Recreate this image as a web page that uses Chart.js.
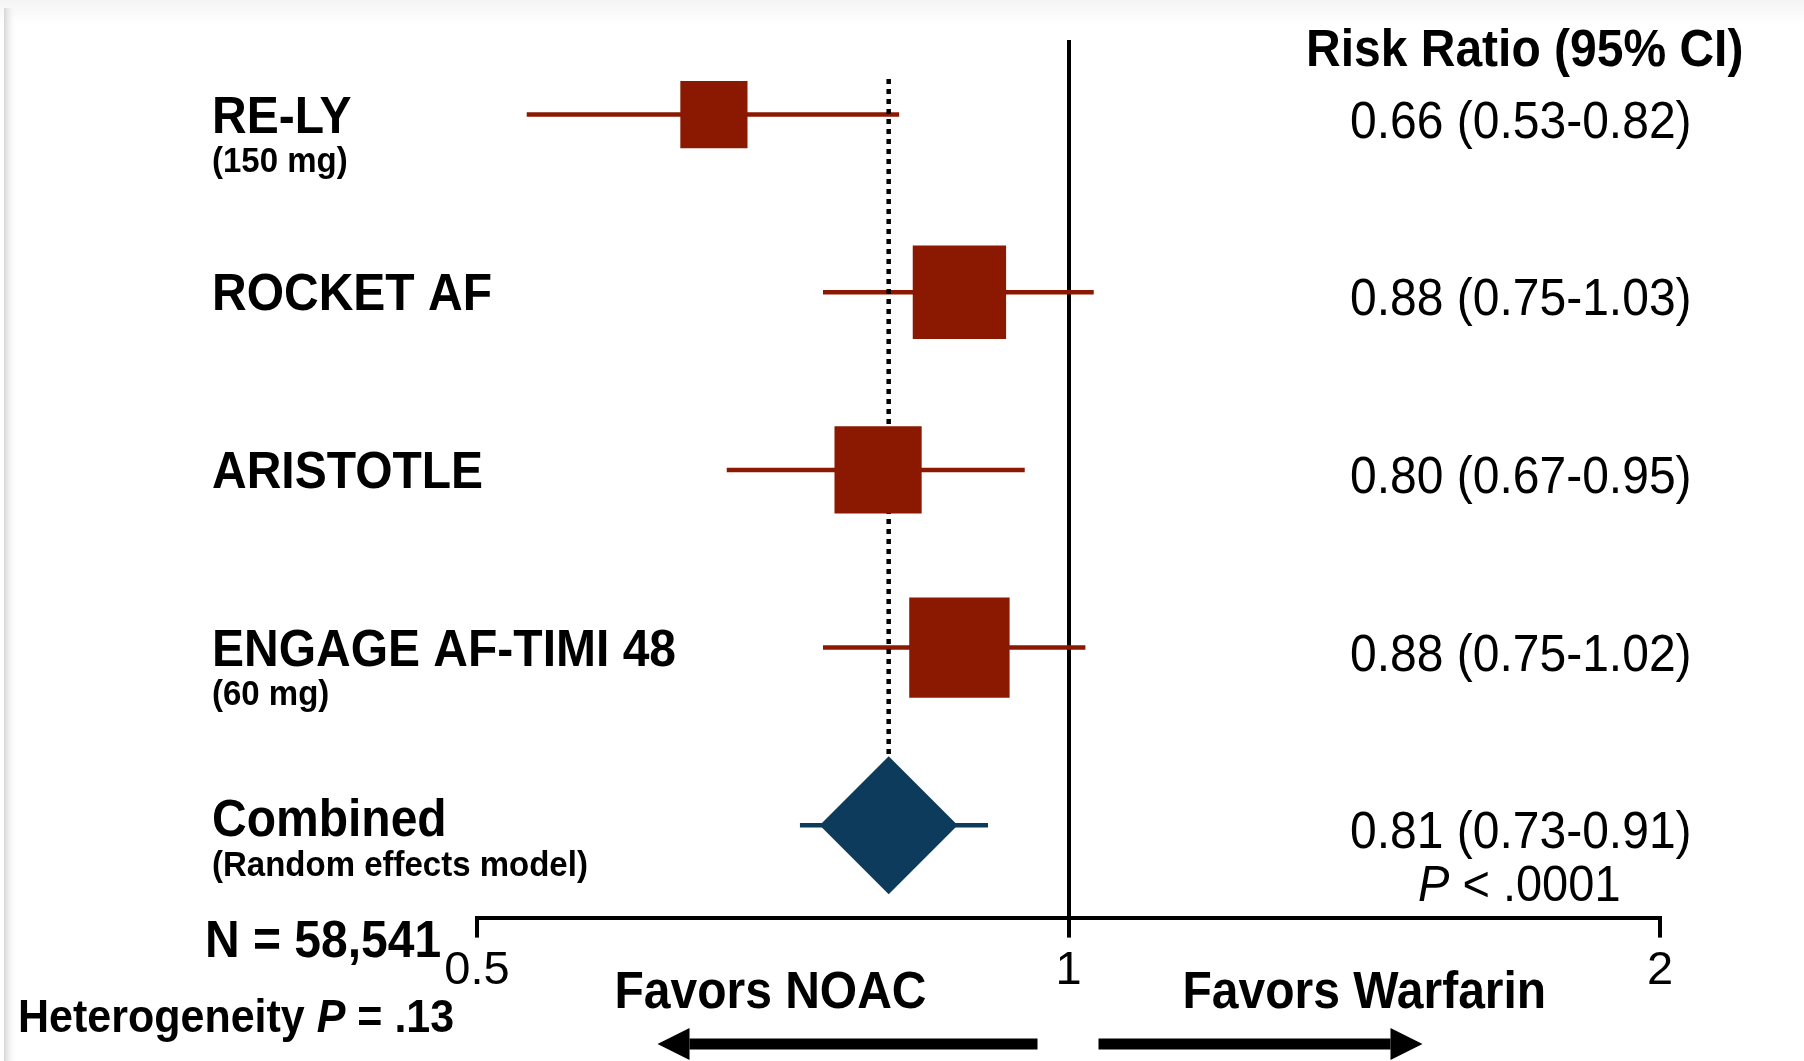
<!DOCTYPE html>
<html>
<head>
<meta charset="utf-8">
<script src="https://cdn.jsdelivr.net/npm/chart.js@4.4.1/dist/chart.umd.min.js"></script>
<style>
  html, body { margin: 0; padding: 0; background: #fff; }
  #wrap { width: 1804px; height: 1061px; }
</style>
</head>
<body>
<div id="wrap"><canvas id="forest" width="1804" height="1061"></canvas></div>
<script>
// trial data (risk ratio with 95% CI), last row is the pooled estimate
const studies = ["RE-LY", "ROCKET AF", "ARISTOTLE", "ENGAGE AF-TIMI 48", "Combined"];
const subLabels = ["(150 mg)", "", "", "(60 mg)", "(Random effects model)"];
const riskRatio = [0.66, 0.88, 0.80, 0.88, 0.81];
const ciLow = [0.53, 0.75, 0.67, 0.75, 0.73];
const ciHigh = [0.82, 1.03, 0.95, 1.02, 0.91];
const weights = [14.6, 28.2, 24.6, 32.6]; // study weights
const xTicks = [0.5, 1, 2];
const totalN = "58,541";
const heterogeneityP = ".13";
const pooledP = ".0001";

const rows = studies.map((s, i) => i + 1);
const pooled = studies.length - 1;

const RED = "#8b1800";
const NAVY = "#0c3b5b";
const FONT = '"Liberation Sans", Arial, Helvetica, sans-serif';
const STRETCH = 1.07; // the source text is a little taller than wide

function fmt(v) { return v.toFixed(2); }

// whisker lines, one dataset per row
const whiskers = studies.map((s, i) => ({
  type: "scatter",
  showLine: true,
  data: [{x: ciLow[i], y: rows[i]}, {x: ciHigh[i], y: rows[i]}],
  borderColor: i === pooled ? NAVY : RED,
  borderWidth: 4.5,
  pointRadius: 0,
  clip: false
}));

function text(ctx, str, x, y) {
  ctx.save();
  ctx.translate(x, y);
  ctx.scale(1, STRETCH);
  ctx.fillText(str, 0, 0);
  ctx.restore();
}

function drawArrow(ctx, x0, x1, y) {
  const dir = x1 > x0 ? 1 : -1;
  const head = 32;
  ctx.fillRect(Math.min(x0, x1 - dir * head), y - 5.5, Math.abs(x1 - x0) - head, 11);
  ctx.beginPath();
  ctx.moveTo(x1, y);
  ctx.lineTo(x1 - dir * head, y - 16);
  ctx.lineTo(x1 - dir * head, y + 16);
  ctx.closePath();
  ctx.fill();
}

// draws runs of text like [["Heterogeneity ", "bold"], ["P", "italic bold"]]
function drawRuns(ctx, runs, x, y, size) {
  runs.forEach(r => {
    ctx.font = r[1] + " " + size + "px " + FONT;
    text(ctx, r[0], x, y);
    x += ctx.measureText(r[0]).width;
  });
}

const background = {
  id: "background",
  beforeDraw(chart) {
    const ctx = chart.ctx;
    ctx.save();
    ctx.fillStyle = "#fff";
    ctx.fillRect(0, 0, chart.width, chart.height);
    let g = ctx.createLinearGradient(0, 0, 0, 24);
    g.addColorStop(0, "#f4f4f4");
    g.addColorStop(1, "#fff");
    ctx.fillStyle = g;
    ctx.fillRect(0, 0, chart.width, 24);
    g = ctx.createLinearGradient(4, 0, 17, 0);
    g.addColorStop(0, "#d6d6d6");
    g.addColorStop(1, "rgba(255,255,255,0)");
    ctx.fillStyle = g;
    ctx.fillRect(4, 8, 13, chart.height - 8);
    ctx.restore();
  }
};

const labels = {
  id: "labels",
  afterDraw(chart) {
    const ctx = chart.ctx;
    const yS = chart.scales.y;
    const xS = chart.scales.x;
    ctx.save();
    ctx.fillStyle = "#000";
    ctx.textAlign = "left";
    ctx.textBaseline = "alphabetic";

    ctx.font = "bold 48px " + FONT;
    text(ctx, "Risk Ratio (95% CI)", 1306, 66);

    studies.forEach((name, i) => {
      const yp = yS.getPixelForValue(rows[i]);
      ctx.font = "bold 48px " + FONT;
      text(ctx, name, 212, yp + (i === pooled ? 11 : 18));
      if (subLabels[i]) {
        ctx.font = "bold 33px " + FONT;
        text(ctx, subLabels[i], 212, yp + (i === pooled ? 51 : 57));
      }
      ctx.font = "48px " + FONT;
      text(ctx, fmt(riskRatio[i]) + " (" + fmt(ciLow[i]) + "-" + fmt(ciHigh[i]) + ")", 1350, yp + 23);
    });

    const yPool = yS.getPixelForValue(rows[pooled]);
    drawRuns(ctx, [["P", "italic"], [" < " + pooledP, ""]], 1418, yPool + 76, 47);

    ctx.font = "bold 48px " + FONT;
    text(ctx, "N = " + totalN, 205, 957);
    drawRuns(ctx, [["Heterogeneity ", "bold"], ["P", "italic bold"], [" = " + heterogeneityP, "bold"]], 18, 1032, 43);

    const xOne = xS.getPixelForValue(1);
    ctx.font = "bold 48px " + FONT;
    ctx.textAlign = "right";
    text(ctx, "Favors NOAC", xOne - 142, 1008);
    ctx.textAlign = "left";
    text(ctx, "Favors Warfarin", xOne + 114, 1008);

    drawArrow(ctx, xOne - 31, xOne - 411, 1044);
    drawArrow(ctx, xOne + 30, xOne + 354, 1044);
    ctx.restore();
  }
};

new Chart(document.getElementById("forest"), {
  type: "scatter",
  data: {
    datasets: [
      {
        label: "Studies",
        data: rows.slice(0, pooled).map((r, i) => ({x: riskRatio[i], y: r})),
        pointStyle: "rect",
        pointRadius: ctx => 12.43 * Math.sqrt(weights[ctx.dataIndex]),
        backgroundColor: RED,
        borderWidth: 0,
        clip: false
      },
      {
        label: "Combined",
        data: [{x: riskRatio[pooled], y: rows[pooled]}],
        pointStyle: "rectRot",
        pointRadius: 69,
        backgroundColor: NAVY,
        borderWidth: 0,
        clip: false
      },
      {
        label: "Pooled estimate",
        showLine: true,
        data: [{x: riskRatio[pooled], y: rows[0] - 0.2}, {x: riskRatio[pooled], y: rows[pooled]}],
        borderColor: "#000",
        borderWidth: 4.5,
        borderDash: [5, 5],
        pointRadius: 0,
        clip: false
      },
      ...whiskers
    ]
  },
  options: {
    responsive: false,
    animation: false,
    events: [],
    layout: { autoPadding: false, padding: { left: 477, right: 144, top: 40, bottom: 57 } },
    plugins: { legend: { display: false }, tooltip: { enabled: false } },
    scales: {
      x: {
        type: "logarithmic",
        min: 0.5,
        max: 2,
        afterBuildTicks: scale => { scale.ticks = xTicks.map(v => ({value: v})); },
        ticks: {
          autoSkip: false,
          maxRotation: 0,
          padding: 5,
          color: "#000",
          font: { family: FONT, size: 47 },
          callback: v => String(v)
        },
        grid: {
          color: c => (c.tick && c.tick.value === 1 ? "#000" : "rgba(0,0,0,0)"),
          lineWidth: 4,
          tickColor: "#000",
          tickWidth: 4,
          tickLength: 20
        },
        border: { display: true, color: "#000", width: 4 }
      },
      y: {
        type: "linear",
        reverse: true,
        min: 0.58,
        max: 5.52,
        display: false
      }
    }
  },
  plugins: [background, labels]
});
</script>
</body>
</html>
